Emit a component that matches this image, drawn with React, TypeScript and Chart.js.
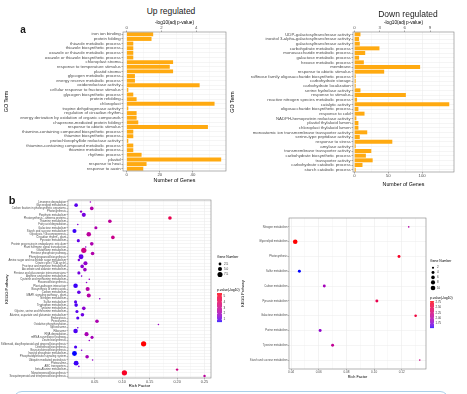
import React, { useEffect, useRef } from 'react';
import { Chart, registerables } from 'chart.js';

Chart.register(...registerables);

const FONT = "'Liberation Sans', Arial, Helvetica, sans-serif";
Chart.defaults.font.family = FONT;

// ================= Panel a: GO enrichment =================
const upTerms = [
  'iron ion binding',
  'protein folding',
  'thiazole metabolic process',
  'thiazole biosynthetic process',
  'oxazole or thiazole metabolic process',
  'oxazole or thiazole biosynthetic process',
  'chloroplast stroma',
  'response to temperature stimulus',
  'plastid stroma',
  'glycogen metabolic process',
  'energy reserve metabolic process',
  'oxidoreductase activity',
  'cellular response to fructose stimulus',
  'glycogen biosynthetic process',
  'protein refolding',
  'chloroplast',
  'tropine dehydrogenase activity',
  'regulation of circadian rhythm',
  'energy derivation by oxidation of organic compounds',
  'chaperone-mediated protein folding',
  'response to abiotic stimulus',
  'thiamine-containing compound biosynthetic process',
  'thiamine biosynthetic process',
  'protochlorophyllide reductase activity',
  'thiamine-containing compound metabolic process',
  'thiamine metabolic process',
  'rhythmic process',
  'plastid',
  'response to heat',
  'response to auxin',
];
const upGeneCounts = [16, 15, 4, 4, 4, 4, 28, 26, 28, 5, 5, 44, 1, 4, 6, 53, 1, 6, 6, 7, 49, 4, 4, 1, 4, 4, 9, 57, 12, 10];
const upGeneTicks = [0, 20, 40];
const upLogPTicks = [0, 2, 4];

const downTerms = [
  'UDP-galactosyltransferase activity',
  'inositol 3-alpha-galactosyltransferase activity',
  'galactosyltransferase activity',
  'carbohydrate metabolic process',
  'monosaccharide metabolic process',
  'galactose metabolic process',
  'hexose metabolic process',
  'membrane',
  'response to abiotic stimulus',
  'raffinose family oligosaccharide biosynthetic process',
  'carbohydrate storage',
  'carbohydrate localization',
  'serine hydrolase activity',
  'response to stimulus',
  'reactive nitrogen species metabolic process',
  'catalytic activity',
  'oligosaccharide biosynthetic process',
  'response to cold',
  'NADPH-hemoprotein reductase activity',
  'plastid thylakoid lumen',
  'chloroplast thylakoid lumen',
  'monoatomic ion transmembrane transporter activity',
  'serine-type peptidase activity',
  'response to stress',
  'amylase activity',
  'transmembrane transporter activity',
  'carbohydrate biosynthetic process',
  'transporter activity',
  'carbohydrate catabolic process',
  'starch catabolic process',
];
const downGeneCounts = [9, 7, 8, 37, 16, 7, 14, 97, 44, 2, 2, 2, 9, 76, 4, 140, 6, 15, 3, 6, 6, 19, 8, 56, 2, 25, 17, 27, 12, 2];
const downGeneTicks = [0, 50, 100];
const downLogPTicks = [0, 3, 6, 9];

// ================= Panel b: KEGG enrichment =================
const keggUpPathways = [
  'Limonene degradation',
  'Glycerolipid metabolism',
  'Carbon fixation in photosynthetic organisms',
  'Photosynthesis',
  'Porphyrin metabolism',
  'Photosynthesis - antenna proteins',
  'Thiamine metabolism',
  'Fatty acid degradation',
  'Galactose metabolism',
  'Starch and sucrose metabolism',
  'Glycolysis / Gluconeogenesis',
  'Circadian rhythm - plant',
  'Pyruvate metabolism',
  'Protein processing in endoplasmic reticulum',
  'Plant hormone signal transduction',
  'Glutathione metabolism',
  'Pentose phosphate pathway',
  'Phenylpropanoid biosynthesis',
  'Amino sugar and nucleotide sugar metabolism',
  'Citrate cycle (TCA cycle)',
  'Fructose and mannose metabolism',
  'Ascorbate and aldarate metabolism',
  'Pentose and glucuronate interconversions',
  'Arginine and proline metabolism',
  'Cysteine and methionine metabolism',
  'Flavonoid biosynthesis',
  'Plant-pathogen interaction',
  'Biosynthesis of amino acids',
  'Carbon metabolism',
  'MAPK signaling pathway - plant',
  'Nitrogen metabolism',
  'Sulfur metabolism',
  'Tryptophan metabolism',
  'Tyrosine metabolism',
  'Glycine, serine and threonine metabolism',
  'Alanine, aspartate and glutamate metabolism',
  'Endocytosis',
  'Peroxisome',
  'Oxidative phosphorylation',
  'Spliceosome',
  'Ribosome',
  'RNA degradation',
  'mRNA surveillance pathway',
  'Zeatin biosynthesis',
  'Stilbenoid, diarylheptanoid and gingerol biosynthesis',
  'Diterpenoid biosynthesis',
  'Brassinosteroid biosynthesis',
  'Inositol phosphate metabolism',
  'Phosphatidylinositol signaling system',
  'Ubiquitin mediated proteolysis',
  'Proteasome',
  'ABC transporters',
  'beta-Alanine metabolism',
  'Monoterpenoid biosynthesis',
  'Sesquiterpenoid and triterpenoid biosynthesis',
];
const keggUpRichFactor = [
  0.042, 0.016, 0.0445, 0.025, 0.03, 0.187, 0.0775, 0.019, 0.052, 0.013,
  0.039, 0.083, 0.02, 0.0445, 0.0335, 0.03, 0.046, 0.025, 0.021, 0.033,
  0.027, 0.032, 0.021, 0.026, 0.04, 0.035, 0.015, 0.037, 0.021, 0.039,
  0.059, 0.015, 0.016, 0.03, 0.0175, 0.0275, 0.019, 0.054, 0.166, 0.019,
  0.015, 0.035, 0.045, 0.04, 0.139, 0.015, 0.026, 0.013, 0.036, 0.046,
  0.016, 0.021, 0.2, 0.104, 0.25,
];
const keggUpGeneNumber = [
  1, 4, 4, 2, 5, 4, 4, 1, 3, 5,
  6, 4, 3, 4, 1, 8, 4, 7, 2, 5,
  4, 4, 3, 1, 1, 1, 6, 5, 4, 5,
  1, 3, 4, 4, 3, 4, 3, 4, 1, 1,
  6, 5, 3, 1, 8, 3, 1, 7, 4, 1,
  7, 1, 2, 8, 2,
];
const keggUpLogP = [
  1.8, 0.9, 2.3, 1.6, 1.2, 4.3, 2.7, 1.4, 2.2, 0.7,
  2.6, 3.0, 1.0, 2.2, 1.5, 3.1, 2.3, 1.0, 1.3, 1.6,
  1.5, 1.8, 1.2, 1.4, 1.8, 1.5, 0.7, 2.4, 1.0, 2.4,
  1.7, 0.9, 0.8, 1.5, 0.9, 1.1, 0.9, 2.2, 1.8, 1.2,
  0.8, 2.1, 2.0, 1.7, 5.5, 0.8, 1.4, 0.55, 2.0, 1.7,
  0.7, 1.3, 3.2, 5.1, 2.6,
];
const keggUpRichTicks = [0.05, 0.1, 0.15, 0.2, 0.25];
const keggUpSizeBreaks = [2.5, 5, 7.5];
const keggUpColorBreaks = [5, 4, 3, 2, 1];

const keggDownPathways = [
  'Nitrogen metabolism',
  'Glycerolipid metabolism',
  'Photosynthesis',
  'Sulfur metabolism',
  'Carbon metabolism',
  'Pyruvate metabolism',
  'Galactose metabolism',
  'Purine metabolism',
  'Tyrosine metabolism',
  'Starch and sucrose metabolism',
];
const keggDownRichFactor = [0.125, 0.043, 0.118, 0.046, 0.064, 0.102, 0.13, 0.061, 0.07, 0.133];
const keggDownGeneNumber = [1, 10, 4, 4, 4, 4, 3, 4, 4, 1];
const keggDownLogP = [2.0, 2.81, 2.7, 1.53, 1.9, 2.5, 2.6, 1.8, 2.1, 2.2];
const keggDownRichTicks = [0.04, 0.06, 0.08, 0.1, 0.12];
const keggDownSizeBreaks = [2, 4, 6, 8, 10];
const keggDownColorBreaks = [2.75, 2.5, 2.25, 2.0, 1.75];

// ================= helpers =================
const BAR_COLOR = '#FFAA11';
const GRID = '#EBEBEB';
const TICK = '#555555';
const TEXT = '#4D4D4D';

function hexToRgb(h: string) {
  const n = parseInt(h.slice(1), 16);
  return [(n >> 16) & 255, (n >> 8) & 255, n & 255];
}
function toLab(rgb: number[]) {
  const lin = (c: number) => {
    c /= 255;
    return c <= 0.04045 ? c / 12.92 : Math.pow((c + 0.055) / 1.055, 2.4);
  };
  const R = lin(rgb[0]), G = lin(rgb[1]), B = lin(rgb[2]);
  const X = (0.4124 * R + 0.3576 * G + 0.1805 * B) / 0.95047;
  const Y = 0.2126 * R + 0.7152 * G + 0.0722 * B;
  const Z = (0.0193 * R + 0.1192 * G + 0.9505 * B) / 1.08883;
  const f = (t: number) => (t > 0.008856 ? Math.cbrt(t) : 7.787 * t + 16 / 116);
  const fx = f(X), fy = f(Y), fz = f(Z);
  return [116 * fy - 16, 500 * (fx - fy), 200 * (fy - fz)];
}
function fromLab(lab: number[]) {
  const fy = (lab[0] + 16) / 116;
  const fx = fy + lab[1] / 500;
  const fz = fy - lab[2] / 200;
  const inv = (t: number) => (t * t * t > 0.008856 ? t * t * t : (t - 16 / 116) / 7.787);
  const X = inv(fx) * 0.95047, Y = inv(fy), Z = inv(fz) * 1.08883;
  const R = 3.2406 * X - 1.5372 * Y - 0.4986 * Z;
  const G = -0.9689 * X + 1.8758 * Y + 0.0415 * Z;
  const B = 0.0557 * X - 0.204 * Y + 1.057 * Z;
  const g = (c: number) => {
    c = c <= 0.0031308 ? 12.92 * c : 1.055 * Math.pow(Math.max(c, 0), 1 / 2.4) - 0.055;
    return Math.round(Math.min(1, Math.max(0, c)) * 255);
  };
  return `rgb(${g(R)},${g(G)},${g(B)})`;
}
const LOW_LAB = toLab(hexToRgb('#0000FF'));
const HIGH_LAB = toLab(hexToRgb('#FF0000'));
function gradientColor(v: number, min: number, max: number) {
  const t = Math.min(1, Math.max(0, (v - min) / (max - min)));
  return fromLab(LOW_LAB.map((l, i) => l + (HIGH_LAB[i] - l) * t));
}

const near = (a: number, b: number) => Math.abs(a - b) < 1e-9;
function minorTicks(majors: number[], min: number, max: number) {
  const step = majors[1] - majors[0];
  const out: number[] = [majors[0] - step / 2];
  majors.forEach((m) => out.push(m + step / 2));
  return out.filter((v) => v >= min && v <= max);
}

const panelBorder = {
  id: 'panelBorder',
  afterDatasetsDraw(chart: any) {
    const { ctx, chartArea: a } = chart;
    ctx.save();
    ctx.strokeStyle = '#7F7F7F';
    ctx.lineWidth = 0.6;
    ctx.strokeRect(a.left, a.top, a.right - a.left, a.bottom - a.top);
    ctx.restore();
  },
};

function goConfig(o: {
  terms: string[];
  counts: number[];
  geneTicks: number[];
  logTicks: number[];
  geneMin: number;
  geneMax: number;
  logScale: number;
  yWidth: number;
  yTitlePad: number;
  topTitlePad: number;
  bottomTitlePad: number;
  bottomH: number;
}) {
  const minors = minorTicks(o.geneTicks, o.geneMin, o.geneMax);
  const isMajor = (v: number) => o.geneTicks.some((m) => near(m, v));
  return {
    type: 'bar',
    data: {
      labels: o.terms,
      datasets: [
        {
          data: o.counts,
          backgroundColor: BAR_COLOR,
          borderWidth: 0,
          barPercentage: 0.85,
          categoryPercentage: 1,
          xAxisID: 'x',
          yAxisID: 'y',
        },
      ],
    },
    options: {
      indexAxis: 'y',
      animation: false,
      responsive: false,
      events: [],
      layout: { padding: { top: 0, right: 6, bottom: 0, left: 0 } },
      plugins: { legend: { display: false }, tooltip: { enabled: false } },
      scales: {
        y: {
          type: 'category',
          position: 'left',
          offset: true,
          border: { display: false },
          grid: { offset: false, color: GRID, lineWidth: 0.5, tickLength: 1.5, tickColor: TICK, tickWidth: 0.5 },
          ticks: { autoSkip: false, font: { size: 4.3 }, color: TEXT, padding: 0.8 },
          title: { display: true, text: 'GO Term', font: { size: 5.3 }, color: '#000', padding: { top: o.yTitlePad, bottom: 0 } },
          afterFit: (s: any) => {
            s.width = o.yWidth;
          },
        },
        x: {
          type: 'linear',
          position: 'bottom',
          min: o.geneMin,
          max: o.geneMax,
          border: { display: false },
          afterBuildTicks: (s: any) => {
            s.ticks = [...o.geneTicks, ...minors].sort((a, b) => a - b).map((v) => ({ value: v }));
          },
          grid: {
            color: GRID,
            lineWidth: (c: any) => (c.tick && isMajor(c.tick.value) ? 0.6 : 0.3),
            tickLength: 1.5,
            tickColor: (c: any) => (c.tick && isMajor(c.tick.value) ? TICK : 'rgba(0,0,0,0)'),
            tickWidth: 0.5,
          },
          ticks: {
            autoSkip: false,
            maxRotation: 0,
            minRotation: 0,
            font: { size: 4.3 },
            color: TEXT,
            padding: 0,
            callback: (v: number) => (isMajor(v) ? String(v) : ''),
          },
          title: { display: true, text: 'Number of Genes', font: { size: 5.3 }, color: '#000', padding: { top: 0, bottom: o.bottomTitlePad } },
          afterFit: (s: any) => {
            s.height = o.bottomH;
          },
        },
        x2: {
          type: 'linear',
          position: 'top',
          min: o.geneMin / o.logScale,
          max: o.geneMax / o.logScale,
          border: { display: false },
          afterBuildTicks: (s: any) => {
            s.ticks = o.logTicks.map((v) => ({ value: v }));
          },
          grid: { drawOnChartArea: false, tickLength: 1.5, tickColor: TICK, tickWidth: 0.5 },
          ticks: { autoSkip: false, maxRotation: 0, font: { size: 4.3 }, color: TEXT, padding: 0.3 },
          title: { display: true, text: '-log10(adj p-value)', font: { size: 4.7 }, color: '#000', padding: { top: o.topTitlePad, bottom: 0 } },
          afterFit: (s: any) => {
            s.height = 14;
          },
        },
      },
    },
    plugins: [panelBorder],
  };
}

function makeLegendPlugin(L: {
  originX: number;
  originY: number;
  x: number;
  sizeTitleY: number;
  sizeYs: number[];
  sizeBreaks: number[];
  radius: (g: number) => number;
  fmtSize: (g: number) => string;
  colorTitleY: number;
  barTop: number;
  barH: number;
  barW: number;
  cMin: number;
  cMax: number;
  colorBreaks: number[];
  fmtColor: (v: number) => string;
  titleSize: number;
  labelSize: number;
  dotDx: number;
  labelDx: number;
}) {
  return {
    id: 'bubbleLegend',
    afterDraw(chart: any) {
      const ctx = chart.ctx;
      const x = L.x - L.originX;
      ctx.save();
      ctx.textBaseline = 'middle';
      ctx.textAlign = 'left';
      ctx.fillStyle = '#000';
      ctx.font = `${L.titleSize}px ${FONT}`;
      ctx.fillText('Gene Number', x, L.sizeTitleY - L.originY);
      ctx.font = `${L.labelSize}px ${FONT}`;
      L.sizeBreaks.forEach((g, i) => {
        const cy = L.sizeYs[i] - L.originY;
        ctx.fillStyle = '#000';
        ctx.beginPath();
        ctx.arc(x + L.dotDx, cy, L.radius(g), 0, Math.PI * 2);
        ctx.fill();
        ctx.fillStyle = '#333';
        ctx.fillText(L.fmtSize(g), x + L.labelDx, cy);
      });
      ctx.fillStyle = '#000';
      ctx.font = `${L.titleSize}px ${FONT}`;
      ctx.fillText('p.value(-log10)', x, L.colorTitleY - L.originY);
      const by = L.barTop - L.originY;
      for (let k = 0; k < L.barH; k += 0.5) {
        const v = L.cMax - ((k + 0.25) / L.barH) * (L.cMax - L.cMin);
        ctx.fillStyle = gradientColor(v, L.cMin, L.cMax);
        ctx.fillRect(x, by + k, L.barW, 0.6);
      }
      ctx.font = `${L.labelSize}px ${FONT}`;
      L.colorBreaks.forEach((v) => {
        const y = by + ((L.cMax - v) / (L.cMax - L.cMin)) * L.barH;
        ctx.strokeStyle = '#fff';
        ctx.lineWidth = 0.4;
        ctx.beginPath();
        ctx.moveTo(x, y);
        ctx.lineTo(x + L.barW * 0.2, y);
        ctx.moveTo(x + L.barW * 0.8, y);
        ctx.lineTo(x + L.barW, y);
        ctx.stroke();
        ctx.fillStyle = '#333';
        ctx.fillText(L.fmtColor(v), x + L.barW + 1.5, y);
      });
      ctx.restore();
    },
  };
}

function keggConfig(o: {
  names: string[];
  rich: number[];
  genes: number[];
  logp: number[];
  richTicks: number[];
  radius: (g: number) => number;
  xMin: number;
  xMax: number;
  yWidth: number;
  bottomH: number;
  padTop: number;
  padRight: number;
  tickSize: number;
  labelSize: number;
  titleSize: number;
  yTitlePad: number;
  xTitlePad: number;
  tickLen: number;
  legend: any;
}) {
  const cMin = Math.min(...o.logp);
  const cMax = Math.max(...o.logp);
  const minors = minorTicks(o.richTicks, o.xMin, o.xMax);
  const isMajor = (v: number) => o.richTicks.some((m) => near(m, v));
  const n = o.names.length;
  return {
    type: 'bubble',
    data: {
      datasets: [
        {
          data: o.rich.map((x, i) => ({ x, y: i, r: o.radius(o.genes[i]) })),
          backgroundColor: o.logp.map((p) => gradientColor(p, cMin, cMax)),
          borderWidth: 0,
          hoverBorderWidth: 0,
        },
      ],
    },
    options: {
      animation: false,
      responsive: false,
      events: [],
      layout: { padding: { top: o.padTop, right: o.padRight, bottom: 0, left: 0 } },
      plugins: { legend: { display: false }, tooltip: { enabled: false } },
      scales: {
        y: {
          type: 'linear',
          position: 'left',
          reverse: true,
          min: -0.6,
          max: n - 0.4,
          border: { display: false },
          afterBuildTicks: (s: any) => {
            s.ticks = o.names.map((_, i) => ({ value: i }));
          },
          grid: { color: GRID, lineWidth: 0.5, tickLength: o.tickLen, tickColor: TICK, tickWidth: 0.4 },
          ticks: {
            autoSkip: false,
            font: { size: o.labelSize },
            color: TEXT,
            padding: 0.5,
            callback: (v: number) => o.names[Math.round(v)] ?? '',
          },
          title: { display: true, text: 'KEGG Pathway', font: { size: o.titleSize }, color: '#000', padding: { top: o.yTitlePad, bottom: 0 } },
          afterFit: (s: any) => {
            s.width = o.yWidth;
          },
        },
        x: {
          type: 'linear',
          position: 'bottom',
          min: o.xMin,
          max: o.xMax,
          border: { display: false },
          afterBuildTicks: (s: any) => {
            s.ticks = [...o.richTicks, ...minors].sort((a, b) => a - b).map((v) => ({ value: v }));
          },
          grid: {
            color: GRID,
            lineWidth: (c: any) => (c.tick && isMajor(c.tick.value) ? 0.6 : 0.3),
            tickLength: o.tickLen,
            tickColor: (c: any) => (c.tick && isMajor(c.tick.value) ? TICK : 'rgba(0,0,0,0)'),
            tickWidth: 0.4,
          },
          ticks: {
            autoSkip: false,
            maxRotation: 0,
            minRotation: 0,
            font: { size: o.tickSize },
            color: TEXT,
            padding: 0,
            callback: (v: number) => (isMajor(v) ? v.toFixed(2) : ''),
          },
          title: { display: true, text: 'Rich Factor', font: { size: o.titleSize }, color: '#000', padding: { top: 0, bottom: o.xTitlePad } },
          afterFit: (s: any) => {
            s.height = o.bottomH;
          },
        },
      },
    },
    plugins: [panelBorder, makeLegendPlugin({ ...o.legend, cMin, cMax, radius: o.radius })],
  };
}

// size mappings (area-proportional, like ggplot's size scale)
const upRadius = (g: number) => Math.sqrt(Math.max(0.25, 0.9 * g - 0.3));
const downRadius = (g: number) => Math.sqrt(0.1 + 0.52 * g);

function ChartCanvas({ x, y, w, h, make }: { x: number; y: number; w: number; h: number; make: () => any }) {
  const ref = useRef<HTMLCanvasElement>(null);
  useEffect(() => {
    const chart = new Chart(ref.current as HTMLCanvasElement, make());
    return () => chart.destroy();
  }, []);
  return (
    <canvas
      ref={ref}
      width={w}
      height={h}
      style={{ position: 'absolute', left: x, top: y, width: w, height: h }}
    />
  );
}

function Text({ x, y, size, bold, children }: { x: number; y: number; size: number; bold?: boolean; children: any }) {
  return (
    <div
      style={{
        position: 'absolute',
        left: x,
        top: y,
        transform: 'translate(-50%, -50%)',
        fontSize: size,
        fontWeight: bold ? 700 : 400,
        whiteSpace: 'nowrap',
        lineHeight: 1,
        color: '#1A1A1A',
        fontFamily: FONT,
      }}
    >
      {children}
    </div>
  );
}

export default function App() {
  const makeUp = () =>
    goConfig({
      terms: upTerms,
      counts: upGeneCounts,
      geneTicks: upGeneTicks,
      logTicks: upLogPTicks,
      geneMin: -2.2,
      geneMax: 59.9,
      logScale: 10.5,
      yWidth: 123,
      yTitlePad: 3.5,
      topTitlePad: 1.9,
      bottomTitlePad: 1.1,
      bottomH: 14,
    });
  const makeDown = () =>
    goConfig({
      terms: downTerms,
      counts: downGeneCounts,
      geneTicks: downGeneTicks,
      logTicks: downLogPTicks,
      geneMin: -2,
      geneMax: 147,
      logScale: 12.4,
      yWidth: 125,
      yTitlePad: 1.8,
      topTitlePad: 2.2,
      bottomTitlePad: 0.5,
      bottomH: 16,
    });
  const makeKeggUp = () =>
    keggConfig({
      names: keggUpPathways,
      rich: keggUpRichFactor,
      genes: keggUpGeneNumber,
      logp: keggUpLogP,
      richTicks: keggUpRichTicks,
      radius: upRadius,
      xMin: 0.0012,
      xMax: 0.2618,
      yWidth: 68,
      bottomH: 14,
      padTop: 4,
      padRight: 29,
      tickSize: 3.8,
      labelSize: 2.8,
      titleSize: 4.2,
      yTitlePad: 4.6,
      xTitlePad: 3.5,
      tickLen: 1.5,
      legend: {
        originX: 0,
        originY: 196,
        x: 217,
        sizeTitleY: 257.5,
        sizeYs: [264, 269, 274.5],
        sizeBreaks: keggUpSizeBreaks,
        fmtSize: (g: number) => g.toFixed(1),
        colorTitleY: 290,
        barTop: 293,
        barH: 29,
        barW: 5,
        colorBreaks: keggUpColorBreaks,
        fmtColor: (v: number) => String(v),
        titleSize: 3.4,
        labelSize: 3.1,
        dotDx: 3,
        labelDx: 7,
      },
    });
  const makeKeggDown = () =>
    keggConfig({
      names: keggDownPathways,
      rich: keggDownRichFactor,
      genes: keggDownGeneNumber,
      logp: keggDownLogP,
      richTicks: keggDownRichTicks,
      radius: downRadius,
      xMin: 0.0385,
      xMax: 0.1375,
      yWidth: 53,
      bottomH: 13,
      padTop: 6,
      padRight: 41,
      tickSize: 3.1,
      labelSize: 2.7,
      titleSize: 3.8,
      yTitlePad: 4.7,
      xTitlePad: 2.6,
      tickLen: 1,
      legend: {
        originX: 236,
        originY: 212,
        x: 430,
        sizeTitleY: 261,
        sizeYs: [267.7, 272.5, 277.4, 282.4, 288],
        sizeBreaks: keggDownSizeBreaks,
        fmtSize: (g: number) => String(g),
        colorTitleY: 298,
        barTop: 301,
        barH: 27,
        barW: 4,
        colorBreaks: keggDownColorBreaks,
        fmtColor: (v: number) => v.toFixed(2),
        titleSize: 3.4,
        labelSize: 2.9,
        dotDx: 3,
        labelDx: 7,
      },
    });

  return (
    <div
      style={{
        position: 'fixed',
        left: 0,
        top: 0,
        width: 467,
        height: 394,
        overflow: 'hidden',
        background: '#FFFFFF',
        fontFamily: FONT,
      }}
    >
      <ChartCanvas x={0} y={18} w={232} h={167} make={makeUp} />
      <ChartCanvas x={228} y={18} w={232} h={170} make={makeDown} />
      <ChartCanvas x={0} y={196} w={240} h={196} make={makeKeggUp} />
      <ChartCanvas x={236} y={212} w={231} h={170} make={makeKeggDown} />

      <Text x={171} y={10.5} size={8.5}>Up regulated</Text>
      <Text x={408} y={13.5} size={8.5}>Down regulated</Text>
      <Text x={23} y={30} size={10} bold>a</Text>
      <Text x={12} y={200} size={11} bold>b</Text>

      <div
        style={{
          position: 'absolute',
          left: 13,
          top: 390.5,
          width: 436,
          height: 30,
          border: '1px solid #A9CFEA',
          borderRadius: 9,
          boxSizing: 'border-box',
        }}
      />
    </div>
  );
}
